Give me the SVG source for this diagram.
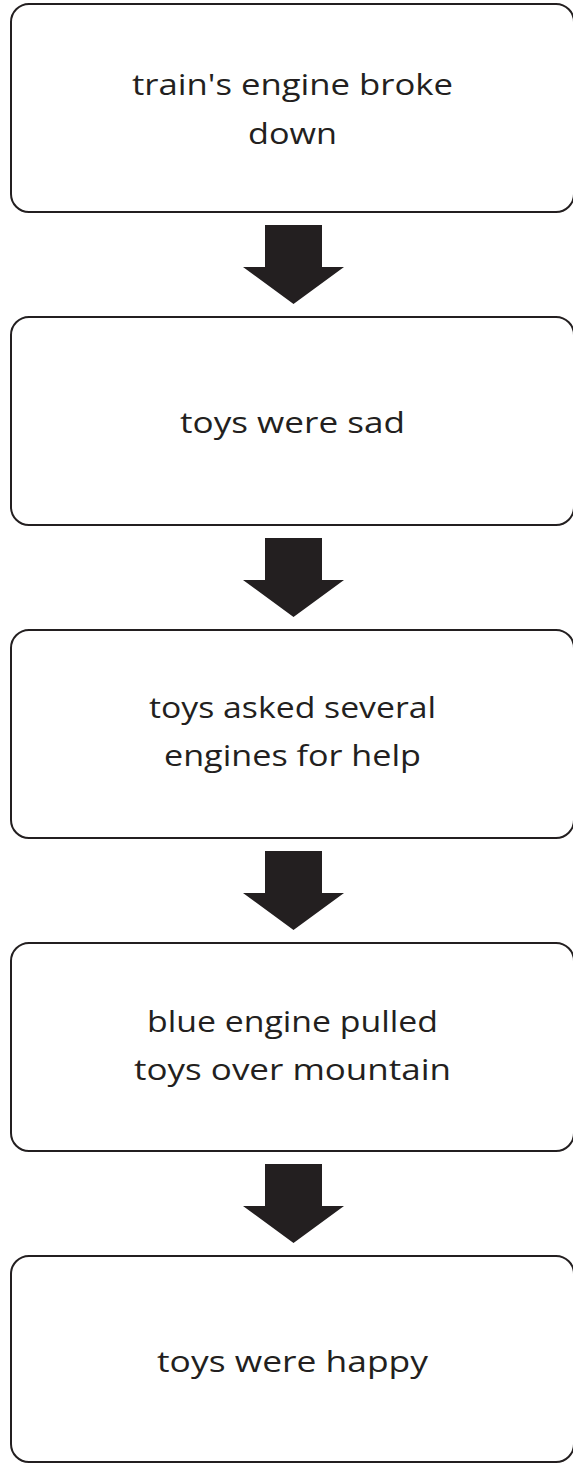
<svg xmlns="http://www.w3.org/2000/svg" width="573" height="1464" viewBox="0 0 573 1464">
<style>
.box{fill:#fff;stroke:#231f20;stroke-width:2}
.lbl{font-family:"Open Sans","Liberation Sans",sans-serif;font-size:30px;fill:#231f20;text-anchor:middle}
.arr{fill:#231f20}
</style>
<rect width="573" height="1464" fill="#fff"/>
<g id="node1"><rect class="box" x="11" y="4" width="563" height="208" rx="18"/>
<text class="lbl" x="292.5" y="95" textLength="321" lengthAdjust="spacingAndGlyphs">train's engine broke</text>
<text class="lbl" x="292.5" y="144" textLength="89" lengthAdjust="spacingAndGlyphs">down</text></g>
<g id="node2"><rect class="box" x="11" y="317" width="563" height="208" rx="18"/>
<text class="lbl" x="292.5" y="433" textLength="225" lengthAdjust="spacingAndGlyphs">toys were sad</text></g>
<g id="node3"><rect class="box" x="11" y="630" width="563" height="208" rx="18"/>
<text class="lbl" x="292.5" y="718" textLength="287" lengthAdjust="spacingAndGlyphs">toys asked several</text>
<text class="lbl" x="292.5" y="766" textLength="257" lengthAdjust="spacingAndGlyphs">engines for help</text></g>
<g id="node4"><rect class="box" x="11" y="943" width="563" height="208" rx="18"/>
<text class="lbl" x="292.5" y="1032" textLength="291" lengthAdjust="spacingAndGlyphs">blue engine pulled</text>
<text class="lbl" x="292.5" y="1080" textLength="317" lengthAdjust="spacingAndGlyphs">toys over mountain</text></g>
<g id="node5"><rect class="box" x="11" y="1256" width="563" height="206" rx="18"/>
<text class="lbl" x="292.5" y="1372" textLength="271" lengthAdjust="spacingAndGlyphs">toys were happy</text></g>
<g id="connectors">
<polygon class="arr" points="265,225 322,225 322,267 344,267 293.5,304 243,267 265,267"/>
<polygon class="arr" points="265,538 322,538 322,580 344,580 293.5,617 243,580 265,580"/>
<polygon class="arr" points="265,851 322,851 322,893 344,893 293.5,930 243,893 265,893"/>
<polygon class="arr" points="265,1164 322,1164 322,1206 344,1206 293.5,1243 243,1206 265,1206"/>
</g>
</svg>
